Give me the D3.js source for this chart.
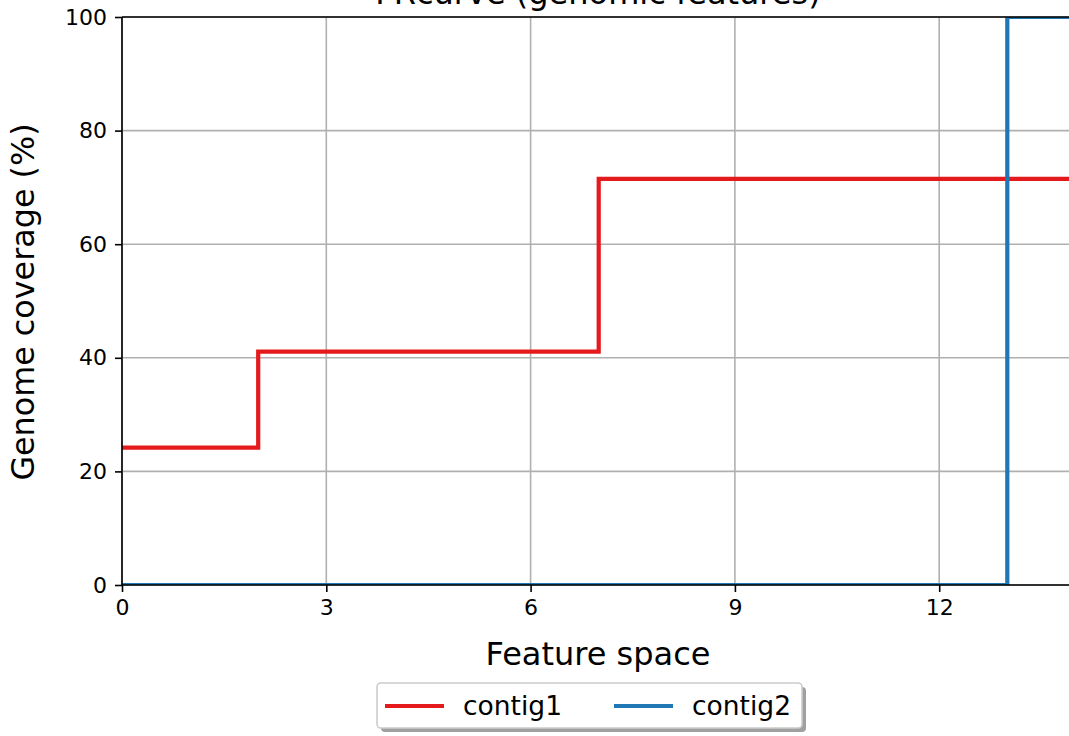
<!DOCTYPE html>
<html><head><meta charset="utf-8">
<script src="https://cdn.jsdelivr.net/npm/d3@7"></script>
<style>body{margin:0;background:#fff}svg{display:block;font-family:"DejaVu Sans",sans-serif}</style>
</head><body>
<svg id="c" width="1069" height="736"></svg>
<script>
const seriesNames = ["contig1", "contig2"];
const seriesColors = ["#e41a1c", "#1f77b4"];
const contig1X = [0, 2, 2, 7, 7, 14];
const contig1Y = [24.2, 24.2, 41.1, 41.1, 71.5, 71.5];
const contig2X = [0, 13, 13, 14];
const contig2Y = [0, 0, 100, 100];
const xTicks = [0, 3, 6, 9, 12];
const yTicks = [0, 20, 40, 60, 80, 100];
const titleText = "FRcurve (genomic features)";
const xLabel = "Feature space";
const yLabel = "Genome coverage (%)";

const svg = d3.select("#c");
const L = 122, T = 17, B = 585;
const x = d3.scaleLinear().domain([0, 14]).range([L, L + 14 * 68.1]);
const y = d3.scaleLinear().domain([0, 100]).range([B, T]);

// grid
svg.append("g").selectAll("line").data(xTicks).join("line")
  .attr("x1", d => x(d)).attr("x2", d => x(d)).attr("y1", T).attr("y2", B)
  .attr("stroke", "#b0b0b0").attr("stroke-width", 1.6);
svg.append("g").selectAll("line").data(yTicks).join("line")
  .attr("x1", L).attr("x2", 1069).attr("y1", d => y(d)).attr("y2", d => y(d))
  .attr("stroke", "#b0b0b0").attr("stroke-width", 1.6);

// lines
svg.append("defs").append("clipPath").attr("id", "clip").append("rect")
  .attr("x", L).attr("y", T).attr("width", 1069 - L).attr("height", B - T);
const line = d3.line().x(d => x(d[0])).y(d => y(d[1]));
const data = [d3.zip(contig1X, contig1Y), d3.zip(contig2X, contig2Y)];
svg.append("g").attr("clip-path", "url(#clip)").selectAll("path").data(data).join("path")
  .attr("d", line).attr("fill", "none")
  .attr("stroke", (d, i) => seriesColors[i]).attr("stroke-width", 4.2)
  .attr("stroke-linejoin", "miter").attr("stroke-linecap", "butt");

// axes
const xAxis = svg.append("g").attr("transform", `translate(0,${B})`)
  .call(d3.axisBottom(x).tickValues(xTicks).tickSize(7).tickPadding(7).tickFormat(d3.format("d")));
const yAxis = svg.append("g").attr("transform", `translate(${L},0)`)
  .call(d3.axisLeft(y).tickValues(yTicks).tickSize(7).tickPadding(8).tickFormat(d3.format("d")));
[xAxis, yAxis].forEach(a => {
  a.attr("font-size", null).attr("font-family", null);
  a.select(".domain").remove();
  a.selectAll(".tick line").attr("stroke", "#000").attr("stroke-width", 1.6);
  a.selectAll("text").style("font-size", "22px").attr("fill", "#000").style("font-family", "DejaVu Sans");
});
// spines
svg.append("line").attr("x1", L).attr("x2", L).attr("y1", T).attr("y2", B).attr("stroke", "#000").attr("stroke-width", 1.6);
svg.append("line").attr("x1", L).attr("x2", 1069).attr("y1", B).attr("y2", B).attr("stroke", "#000").attr("stroke-width", 1.6);
svg.append("line").attr("x1", L).attr("x2", 1069).attr("y1", T).attr("y2", T).attr("stroke", "#000").attr("stroke-width", 1.6);

// labels
svg.append("text").attr("x", 598).attr("y", 4).attr("text-anchor", "middle")
  .attr("font-size", 32).text(titleText);
svg.append("text").attr("x", 598).attr("y", 665).attr("text-anchor", "middle")
  .attr("font-size", 32).text(xLabel);
svg.append("text").attr("transform", "translate(34,302) rotate(-90)").attr("text-anchor", "middle")
  .attr("font-size", 31.8).text(yLabel);

// legend
const lg = svg.append("g");
lg.append("rect").attr("x", 381).attr("y", 687).attr("width", 425).attr("height", 45).attr("rx", 4)
  .attr("fill", "#a0a0a0");
lg.append("rect").attr("x", 377).attr("y", 683).attr("width", 425).attr("height", 45).attr("rx", 4)
  .attr("fill", "#fff").attr("stroke", "#cccccc").attr("stroke-width", 1.6);
const lx = [385, 614];
seriesNames.forEach((n, i) => {
  lg.append("line").attr("x1", lx[i]).attr("x2", lx[i] + 59).attr("y1", 706).attr("y2", 706)
    .attr("stroke", seriesColors[i]).attr("stroke-width", 4.2);
  lg.append("text").attr("x", lx[i] + 78).attr("y", 715).attr("font-size", 26.5).text(n);
});
</script>
</body></html>
